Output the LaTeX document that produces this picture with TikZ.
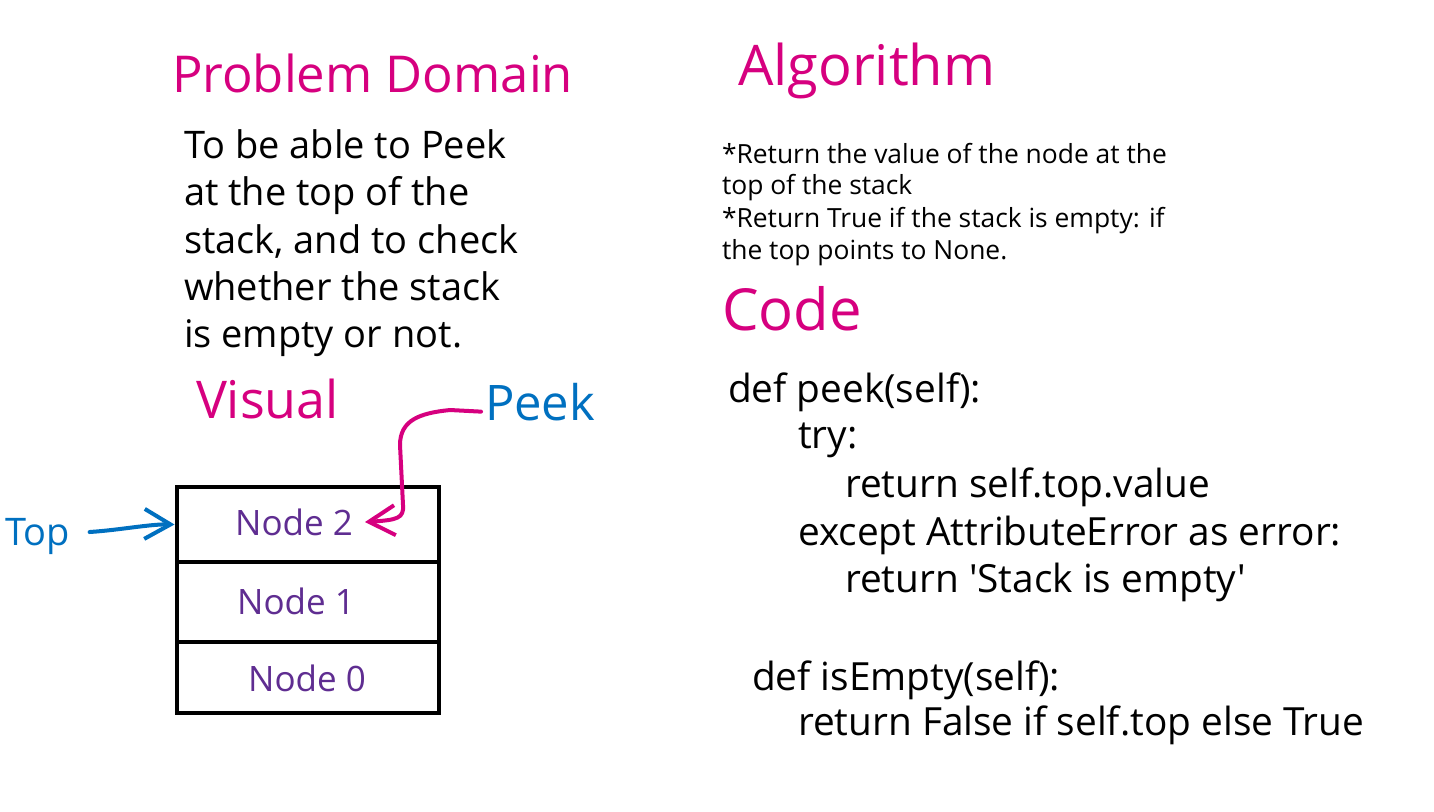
\documentclass[tikz,border=0pt]{standalone}
\usepackage{fontspec}
\setmainfont{Open Sans}
\newfontfamily\codefont{Open Sans}[Ligatures=TeXOff]
\usetikzlibrary{arrows.meta}
\definecolor{hmag}{RGB}{214,0,127}
\definecolor{hblue}{RGB}{0,112,192}
\definecolor{hpurp}{RGB}{95,45,145}
\begin{document}
\begin{tikzpicture}[x=0.5pt,y=-0.5pt,
  txt/.style={anchor=base west,inner sep=0pt,outer sep=0pt},
  head/.style={txt,text=hmag},
  body/.style={txt,font=\fontsize{19pt}{23pt}\selectfont},
  alg/.style={txt,font=\fontsize{13.2pt}{16pt}\selectfont},
  code/.style={txt,font=\codefont\fontsize{19.4pt}{23pt}\selectfont},
  cell/.style={draw=black,line width=2pt,minimum width=131pt,inner sep=0pt},
  nodetxt/.style={inner sep=0pt,text=hpurp,font=\fontsize{17.5pt}{20pt}\selectfont},
  barb/.style={-{Straight Barb[length=13pt,width=15pt,line width=2pt]},line width=2pt,line cap=round,line join=round}
]
\useasboundingbox (0,0) rectangle (1434,811);
\fill[white] (0,0) rectangle (1434,811);

% headings
\node[head,font=\fontsize{25.4pt}{30pt}\selectfont] (hpd) at (172,92) {Problem Domain};
\node[head,font=\fontsize{28pt}{32pt}\selectfont] (halg) at (738,85) {Algorithm};
\node[head,font=\fontsize{29pt}{34pt}\selectfont] (hcode) at (722,330) {Code};
\node[head,font=\fontsize{26pt}{30pt}\selectfont] (hvis) at (196,418) {Visual};

% problem domain text
\node[body] (p1) at (184,158) {To be able to Peek};
\node[body] (p2) at (184,205) {at the top of the};
\node[body] (p3) at (184,253) {stack, and to check};
\node[body] (p4) at (184,300) {whether the stack};
\node[body] (p5) at (184,347) {is empty or not.};

% algorithm text
\node[alg] (a1) at (722,163) {*Return the value of the node at the};
\node[alg] (a2) at (722,194) {top of the stack};
\node[alg] (a3) at (722,227) {*Return True if the stack is empty: if};
\node[alg] (a4) at (722,259) {the top points to None.};

% code
\node[code] (c1) at (728,402) {def peek(self):};
\node[code] (c2) at (798,448) {try:};
\node[code] (c3) at (845,497) {return self.top.value};
\node[code] (c4) at (798,545) {except AttributeError as error:};
\node[code] (c5) at (845,592) {return 'Stack is empty'};
\node[code] (c6) at (752,690) {def isEmpty(self):};
\node[code] (c7) at (798,735) {return False if self.top else True};

% stack
\node[cell,minimum height=37.5pt] (s2) at (307.5,524.5) {};
\node[cell,minimum height=40pt] (s1) at (307.5,602) {};
\node[cell,minimum height=35.5pt] (s0) at (307.5,677.5) {};
\node[nodetxt] (n2) at (294,522) {Node 2};
\node[nodetxt] (n1) at (296,601) {Node 1};
\node[nodetxt] (n0) at (307,678) {Node 0};

% labels
\node[txt,text=hblue,font=\fontsize{24.5pt}{28pt}\selectfont] (peek) at (485,420) {Peek};
\node[txt,text=hblue,font=\fontsize{19pt}{23pt}\selectfont] (top) at (5,545) {Top};

% arrows
\draw[barb,hblue] ([xshift=10pt,yshift=2pt]top.east) .. controls (120,530) and (150,524) .. (s2.west);
\coordinate (ptip) at (365,522);
\draw[barb,hmag] ([xshift=-2pt,yshift=-5pt]peek.west) -- (450,410)
  .. controls (420,413) and (400,420) .. (400,445)
  -- (403,505) .. controls (404,518) and (398,520) .. (ptip);
\end{tikzpicture}
\end{document}
